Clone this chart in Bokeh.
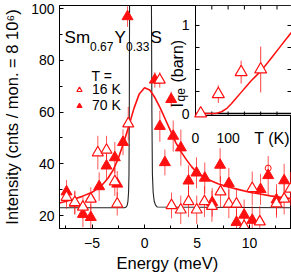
import numpy as np
from math import pi
from bokeh.plotting import figure
from bokeh.models import (Range1d, FixedTicker, Label, Legend, LegendItem, Title,
                          ColumnDataSource)
from bokeh.embed import file_html
from bokeh.resources import INLINE

FONT = "Liberation Sans"
RED = "#ff1010"

# ---------------- main panel data ----------------
# 16 K (open triangles)
e_open = [-7.43, -6.64, -5.87, -5.12, -4.45, -3.62, -2.83, -2.6, -1.55, 1.45, 2.57, 3.45, 4.19,
          4.97, 5.71, 6.42, 7.24, 8.03, 8.76, 9.49, 10.26, 10.98, 12.57, 13.3, 13.9]
v_open = [27.1, 25.1, 23.3, 26.4, 44.3, 45.3, 33.1, 24.5, 55.5, 72.4, 23.9, 22.2, 25.4,
          22.2, 25.4, 23.6, 29.2, 24.5, 24.5, 15.8, 30.5, 17.6, 24.6, 26.4, 30.3]
err_open = [4.5, 4.5, 4.5, 4.5, 6.5, 5.5, 5.5, 4.5, 6.5, 3.0, 5.0, 5.5, 6.0,
            5.5, 6.0, 6.0, 6.0, 5.5, 6.0, 5.0, 6.5, 6.0, 5.5, 6.0, 6.5]

# 70 K (filled triangles)
e_fill = [-7.43, -6.64, -5.87, -5.12, -4.32, -3.62, -2.83, -2.6, -2.05, -1.62, 0.98, 1.46, 1.94,
          2.54, 2.73, 3.46, 4.19, 4.95, 5.74, 6.45, 7.2, 8.03, 8.76, 9.49, 10.26, 11.05, 11.78,
          12.57, 13.3]
v_fill = [29.2, 24.8, 20.5, 19.3, 31.2, 39.2, 42.4, 32.2, 48.3, 96.9, 72.4, 54.5, 40.5,
          64.9, 50.7, 46.2, 33.4, 36.5, 34.5, 25.1, 39.5, 32.4, 17.4, 20.2, 18.2, 30.1, 35.5,
          26.1, 33.5]
err_fill = [4.5, 4.5, 5.0, 5.0, 5.5, 5.5, 6.0, 5.0, 5.0, 4.0, 3.0, 6.0, 5.0,
            3.0, 6.0, 7.0, 6.0, 6.0, 6.0, 5.5, 6.5, 6.0, 5.0, 6.0, 5.5, 6.0, 7.5,
            6.0, 6.5]

# single open-circle point
e_circ = [11.78]
v_circ = [38.3]

# 70 K fit curve (red)
fit_e = [-8.1, -7, -6, -5, -4.5, -4, -3.5, -3, -2.5, -2, -1.5, -1, -0.5, 0, 0.5, 1, 1.5, 2,
         2.5, 3, 3.5, 4, 4.5, 5, 6, 7, 8, 9, 10, 11, 12, 13, 14]
fit_v = [24.8, 26.0, 27.3, 29.0, 30.3, 32.0, 34.3, 37.5, 42.0, 48.0, 54.5, 61.5, 67.0, 69.4,
         68.5, 65.5, 61.5, 57.0, 52.5, 48.0, 44.5, 41.5, 38.8, 36.5, 34.0, 32.3, 31.0, 30.0,
         29.0, 28.3, 27.6, 27.0, 26.5]

# resolution / elastic line (black)
res_e = [-8.1, -1.9, -1.75, -1.65, -1.58, -1.52, -1.48, -1.45, -1.42, -0.4, 0.65, 0.7, 0.75,
         0.82, 0.92, 1.05, 1.2, 14.0]
res_v = [23.0, 23.0, 23.3, 24.0, 25.5, 29.0, 36.0, 60.0, 110.0, 400.0, 110.0, 60.0, 36.0,
         29.0, 25.5, 24.0, 23.3, 23.0]

x_ticks = [-5, 0, 5, 10]
x_minor = [-7.5, -2.5, 2.5, 7.5, 12.5]
y_ticks = [20, 40, 60, 80, 100]
y_minor = [30, 50, 70, 90]

# ---------------- inset data ----------------
T_pts = [16, 70, 140, 200]
I_pts = [0.0, 0.22, 0.47, 0.50]
I_err = [0.0, 0.10, 0.13, 0.26]
T_fit = [0, 50, 65, 80, 95, 110, 125, 140, 155, 170, 185, 200, 220, 240, 260, 280, 294]
I_fit = [0.0, 0.0, 0.003, 0.02, 0.055, 0.11, 0.175, 0.24, 0.305, 0.37, 0.425, 0.48, 0.57,
         0.665, 0.76, 0.855, 0.92]
inset_T_ticks = [50, 100, 150, 200, 250]
inset_T_labels = {0: "0", 100: "100"}
inset_I_ticks = [0.25, 0.5, 0.75, 1.0]
inset_I_labels = {0: "0", 1: "1"}
inset_T_range = (0.0, 294.5)
inset_I_range = (-0.0227, 1.227)

# ---------------- layout (pixels) ----------------
W, H = 291, 274
FRAME_L, FRAME_R, FRAME_T, FRAME_B = 58, 290, 5, 228
INSET_L, INSET_B = 194, 115          # inset box shares top/right edges with main frame
X_RANGE = (-8.1, 14.0)
Y_RANGE = (14.98, 101.16)


def style_axis(ax, size="14px"):
    ax.major_label_text_font = FONT
    ax.major_label_text_font_size = size
    ax.major_label_text_color = "black"
    ax.axis_line_color = "black"
    ax.major_tick_line_color = "black"
    ax.minor_tick_line_color = "black"
    ax.major_tick_in = 4
    ax.major_tick_out = 0
    ax.minor_tick_in = 3
    ax.minor_tick_out = 0


# ---------------- main figure ----------------
p = figure(width=W, height=H, x_range=Range1d(*X_RANGE), y_range=Range1d(*Y_RANGE),
           output_backend="svg", toolbar_location=None,
           min_border_left=FRAME_L, min_border_right=W - 1 - FRAME_R,
           min_border_top=FRAME_T, min_border_bottom=H - FRAME_B)
p.grid.visible = False
p.outline_line_color = "black"
p.outline_line_width = 1
p.background_fill_color = "white"
p.border_fill_color = "white"

p.xaxis.ticker = FixedTicker(ticks=x_ticks, minor_ticks=x_minor)
p.yaxis.ticker = FixedTicker(ticks=y_ticks, minor_ticks=y_minor)
for ax in (p.xaxis[0], p.yaxis[0]):
    style_axis(ax)
p.xaxis.major_label_standoff = 9
p.yaxis.major_label_standoff = 5
p.yaxis.axis_label = "Intensity (cnts / mon. = 8 10\u2076)"
p.yaxis.axis_label_text_font = FONT
p.yaxis.axis_label_text_font_size = "16.5px"
p.yaxis.axis_label_text_font_style = "normal"
p.yaxis.axis_label_text_color = "black"
p.yaxis.axis_label_standoff = 7

p.add_layout(Title(text="Energy (meV)", align="left", offset=57, text_font=FONT,
                   text_font_size="16.5px", text_font_style="normal", text_color="black",
                   standoff=2), "below")

src_open = ColumnDataSource(dict(e=e_open, v=v_open,
                                 lo=np.array(v_open) - np.array(err_open),
                                 hi=np.array(v_open) + np.array(err_open)))
src_fill = ColumnDataSource(dict(e=e_fill, v=v_fill,
                                 lo=np.array(v_fill) - np.array(err_fill),
                                 hi=np.array(v_fill) + np.array(err_fill)))

p.line(res_e, res_v, line_color="#222222", line_width=1.1)
p.segment(x0="e", y0="lo", x1="e", y1="hi", source=src_fill, line_color=RED, line_width=1, line_alpha=0.7)
p.segment(x0="e", y0="lo", x1="e", y1="hi", source=src_open, line_color=RED, line_width=1, line_alpha=0.7)
p.line(fit_e, fit_v, line_color=RED, line_width=1.6)
r_fill = p.scatter(x="e", y="v", source=src_fill, marker="triangle", size=11,
                   fill_color=RED, line_color=RED, line_width=1)
r_open = p.scatter(x="e", y="v", source=src_open, marker="triangle", size=11,
                   fill_color="white", line_color=RED, line_width=1.2)
p.scatter(e_circ, v_circ, marker="circle", size=6, fill_color=None, line_color=RED, line_width=1)

# compound label Sm0.67Y0.33S
parts = [("Sm", 0, 0, "17px"), ("0.67", 25.5, -9, "12px"), ("Y", 50, 0, "17px"),
         ("0.33", 61.5, -9, "12px"), ("S", 86, 0, "17px")]
for txt, dx, dy, fs in parts:
    p.add_layout(Label(x=-7.62, y=88.7, x_offset=dx, y_offset=dy, text=txt, text_font=FONT,
                       text_font_size=fs, text_baseline="alphabetic", text_align="left",
                       text_color="black"))

p.add_layout(Label(x=-5.05, y=74.1, text="T =", text_font=FONT, text_font_size="14px",
                   text_baseline="alphabetic", text_color="black"))

legend = Legend(items=[LegendItem(label="16 K", renderers=[r_open]),
                       LegendItem(label="70 K", renderers=[r_fill])],
                location=(12, 115), padding=0, margin=0, spacing=-3,
                glyph_width=16, glyph_height=13, label_height=13, label_standoff=5,
                label_text_font=FONT, label_text_font_size="14px", label_text_color="black",
                border_line_color=None, background_fill_alpha=0)
p.add_layout(legend, "center")

# ---------------- inset, drawn in the main canvas on its own ranges ----------------
t0, t1 = inset_T_range
i0, i1 = inset_I_range
px_per_T = (FRAME_R - INSET_L) / (t1 - t0)
px_per_I = (INSET_B - FRAME_T) / (i1 - i0)
p.extra_x_ranges = {"T": Range1d(t0 - (INSET_L - FRAME_L) / px_per_T, t1)}
p.extra_y_ranges = {"I": Range1d(i0 - (FRAME_B - INSET_B) / px_per_I, i1)}
kw = dict(x_range_name="T", y_range_name="I")

p.quad(left=[t0], right=[t1], bottom=[i0], top=[i1], fill_color="white",
       line_color="black", line_width=1, **kw)
tick_T = 4 / px_per_T
tick_I = 4 / px_per_I
# tick marks on the four inset edges
p.segment(x0=inset_T_ticks, y0=[i1] * len(inset_T_ticks), x1=inset_T_ticks,
          y1=[i1 - tick_I] * len(inset_T_ticks), line_color="black", **kw)
p.segment(x0=inset_T_ticks, y0=[i0] * len(inset_T_ticks), x1=inset_T_ticks,
          y1=[i0 + tick_I] * len(inset_T_ticks), line_color="black", **kw)
p.segment(x0=[t0] * len(inset_I_ticks), y0=inset_I_ticks, x1=[t0 + tick_T] * len(inset_I_ticks),
          y1=inset_I_ticks, line_color="black", **kw)
p.segment(x0=[t1] * len(inset_I_ticks), y0=inset_I_ticks, x1=[t1 - tick_T] * len(inset_I_ticks),
          y1=inset_I_ticks, line_color="black", **kw)
# zero line
p.segment(x0=[t0], y0=[0], x1=[t1], y1=[0], line_color="black", line_width=1.5, **kw)

p.line(T_fit, I_fit, line_color=RED, line_width=1.5, **kw)
p.segment(x0=T_pts, y0=list(np.array(I_pts) - np.array(I_err)), x1=T_pts,
          y1=list(np.array(I_pts) + np.array(I_err)), line_color=RED, line_width=1,
          line_alpha=0.8, **kw)
p.scatter(T_pts, I_pts, marker="triangle", size=12, fill_color="white", line_color=RED,
          line_width=1.2, **kw)

for tv, txt in inset_T_labels.items():
    p.add_layout(Label(x=tv, y=i0, y_offset=-22, text=txt, text_font=FONT,
                       text_font_size="14px", text_align="center", text_baseline="middle",
                       text_color="black", **kw))
for iv, txt in inset_I_labels.items():
    p.add_layout(Label(x=t0, y=iv, x_offset=-6, text=txt, text_font=FONT,
                       text_font_size="14px", text_align="right", text_baseline="middle",
                       text_color="black", **kw))
p.add_layout(Label(x=235, y=i0, y_offset=-23, text="T (K)", text_font=FONT,
                   text_font_size="16px", text_align="center", text_baseline="middle",
                   text_color="black", **kw))

# inset y label  I_qe (barn)
p.add_layout(Label(x=t0, y=0, x_offset=-18, y_offset=6, text="I", angle=pi / 2, text_font=FONT,
                   text_font_size="16px", text_baseline="alphabetic", text_align="left",
                   text_color="black", **kw))
p.add_layout(Label(x=t0, y=0, x_offset=-15, y_offset=12, text="qe", angle=pi / 2,
                   text_font=FONT, text_font_size="12px", text_baseline="alphabetic",
                   text_align="left", text_color="black", **kw))
p.add_layout(Label(x=t0, y=0, x_offset=-18, y_offset=31, text="(barn)", angle=pi / 2,
                   text_font=FONT, text_font_size="16px", text_baseline="alphabetic",
                   text_align="left", text_color="black", **kw))

open("out.html", "w").write(file_html(p, INLINE))
